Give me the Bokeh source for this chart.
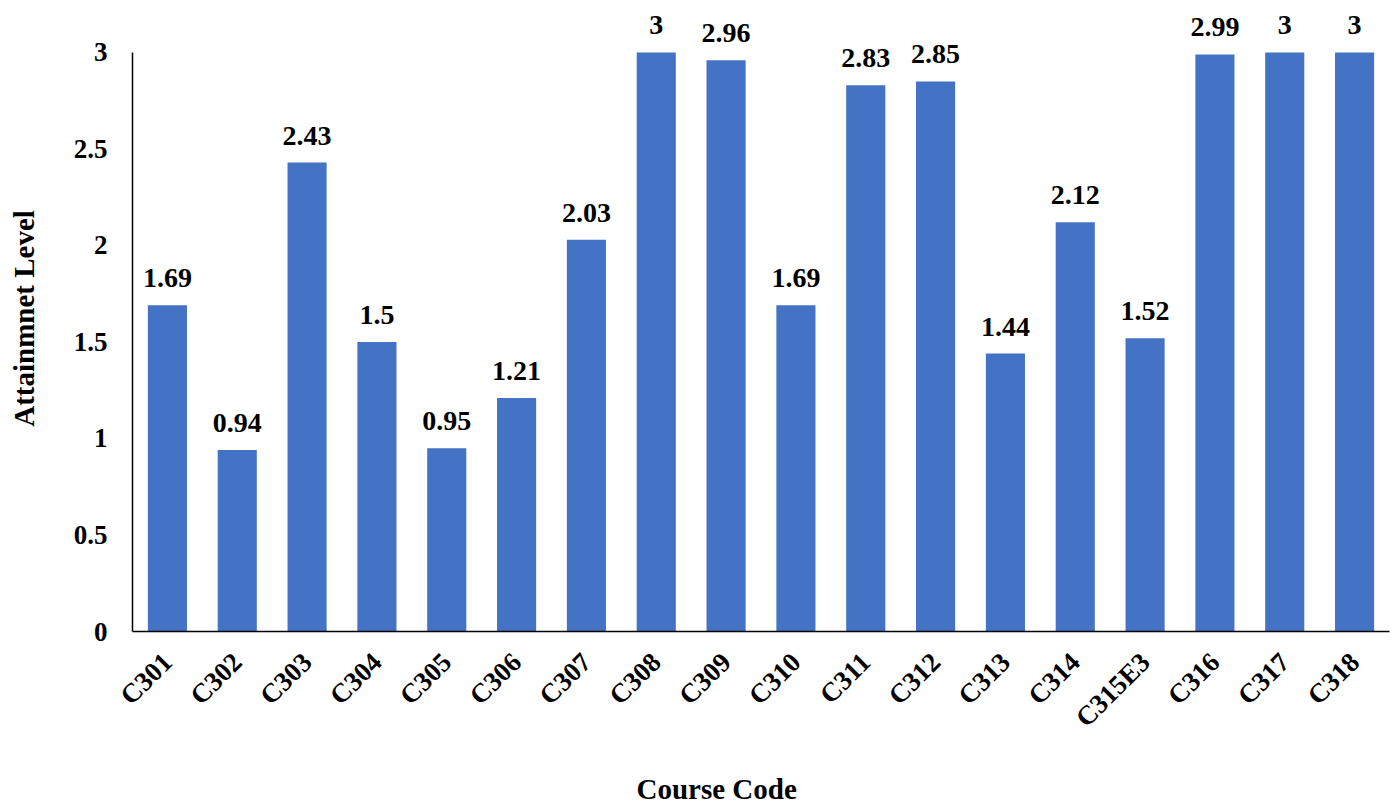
from math import pi

from bokeh.core.properties import value
from bokeh.embed import file_html
from bokeh.models import ColumnDataSource, FactorRange, Range1d, FixedTicker, Title
from bokeh.plotting import figure
from bokeh.resources import INLINE

# Course attainment levels
courses = ["C301", "C302", "C303", "C304", "C305", "C306", "C307", "C308", "C309",
           "C310", "C311", "C312", "C313", "C314", "C315E3", "C316", "C317", "C318"]
attainment = [1.69, 0.94, 2.43, 1.5, 0.95, 1.21, 2.03, 3, 2.96,
              1.69, 2.83, 2.85, 1.44, 2.12, 1.52, 2.99, 3, 3]
y_ticks = [0, 0.5, 1, 1.5, 2, 2.5, 3]

FONT = "Liberation Serif"
BAR_COLOR = "#4472C4"

labels = [f"{v:g}" for v in attainment]
src = ColumnDataSource(data=dict(course=courses, level=attainment, label=labels))

p = figure(
    width=1394, height=808,
    x_range=FactorRange(factors=courses, range_padding=0),
    y_range=Range1d(0, 3.2435),
    output_backend="svg", toolbar_location=None,
    min_border_left=132, min_border_right=5,
    min_border_top=5, min_border_bottom=177,
)
p.outline_line_color = None
p.background_fill_color = "white"
p.border_fill_color = "white"
p.xgrid.grid_line_color = None
p.ygrid.grid_line_color = None

p.vbar(x="course", top="level", width=0.56, source=src,
       fill_color=BAR_COLOR, line_color=None)

p.text(x="course", y="level", text="label", source=src,
       text_align="center", text_baseline="alphabetic", y_offset=-27,
       text_font=value(FONT), text_font_style="bold", text_font_size="28px",
       text_color="black")

# y axis
p.yaxis.ticker = FixedTicker(ticks=y_ticks)
p.yaxis.bounds = (y_ticks[0], y_ticks[-1])
p.yaxis.major_tick_line_color = None
p.yaxis.minor_tick_line_color = None
p.yaxis.axis_line_color = "black"
p.yaxis.axis_line_width = 1.5
p.yaxis.major_label_text_font = FONT
p.yaxis.major_label_text_font_style = "bold"
p.yaxis.major_label_text_font_size = "27px"
p.yaxis.major_label_text_color = "black"
p.yaxis.major_label_standoff = 19
p.yaxis.axis_label = "Attainmnet Level"
p.yaxis.axis_label_text_font = FONT
p.yaxis.axis_label_text_font_style = "bold"
p.yaxis.axis_label_text_font_size = "29px"
p.yaxis.axis_label_text_color = "black"
p.yaxis.axis_label_standoff = 31

# x axis
p.xaxis.major_tick_line_color = None
p.xaxis.minor_tick_line_color = None
p.xaxis.axis_line_color = "black"
p.xaxis.axis_line_width = 1.5
p.xaxis.major_label_orientation = pi / 4
p.xaxis.major_label_text_font = FONT
p.xaxis.major_label_text_font_style = "bold"
p.xaxis.major_label_text_font_size = "27px"
p.xaxis.major_label_text_color = "black"
p.xaxis.major_label_standoff = 20

# x axis title, placed in the panel below the axis, left of the frame centre
# padding is (left, right, top, bottom)
p.add_layout(Title(
    text="Course Code", align="left", offset=504, standoff=0,
    padding=(0, 0, 24, 0),
    text_font=FONT, text_font_style="bold", text_font_size="29px",
    text_color="black",
), "below")

open("out.html", "w").write(file_html(p, INLINE))
